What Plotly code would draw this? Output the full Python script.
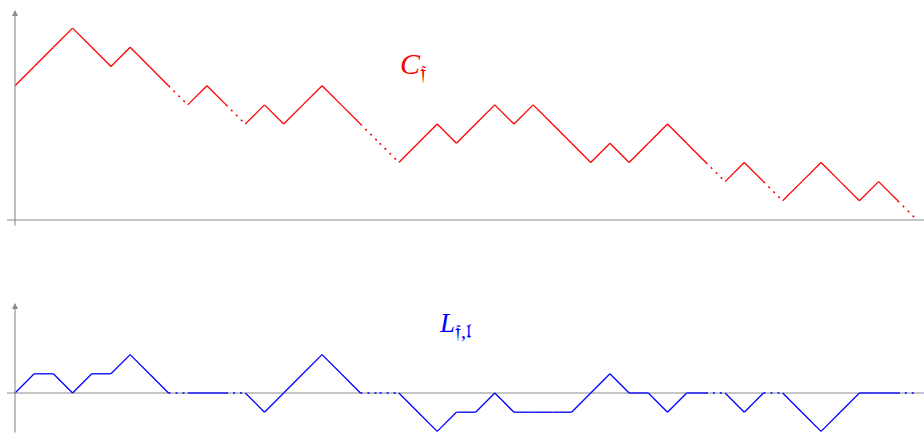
import plotly.graph_objects as go
from plotly.subplots import make_subplots

# hauteurs du contour C (pas 0..47)
c_heights = [7, 8, 9, 10, 9, 8, 9, 8, 7, 6, 7, 6, 5, 6, 5, 6, 7, 6, 5, 4, 3, 4, 5, 4,
             5, 6, 5, 6, 5, 4, 3, 4, 3, 4, 5, 4, 3, 2, 3, 2, 1, 2, 3, 2, 1, 2, 1, 0]
# hauteurs du chemin L
l_heights = [0, 1, 1, 0, 1, 1, 2, 1, 0, 0, 0, 0, 0, -1, 0, 1, 2, 1, 0, 0, 0, -1, -2, -1,
             -1, 0, -1, -1, -1, -1, 0, 1, 0, 0, -1, 0, 0, 0, -1, 0, 0, -1, -2, -1, 0, 0, 0, 0]
# pas dessinés en pointillés (indice du pas i -> i+1)
dotted_steps = [8, 11, 18, 19, 36, 39, 46]

U = 19.19  # pixels par unité


def split_path(h):
    xs_s, ys_s, xs_d, ys_d = [], [], [], []
    for i in range(len(h) - 1):
        if i in dotted_steps:
            xs_d += [i, i + 1, None]
            ys_d += [h[i], h[i + 1], None]
        else:
            xs_s += [i, i + 1, None]
            ys_s += [h[i], h[i + 1], None]
    return xs_s, ys_s, xs_d, ys_d


fig = make_subplots(rows=2, cols=1, vertical_spacing=0)

for row, h, col in [(1, c_heights, "#ff0000"), (2, l_heights, "#0000ff")]:
    xs, ys, xd, yd = split_path(h)
    fig.add_trace(go.Scatter(x=xs, y=ys, mode="lines",
                             line=dict(color=col, width=1.3), hoverinfo="skip"),
                  row=row, col=1)
    fig.add_trace(go.Scatter(x=xd, y=yd, mode="lines",
                             line=dict(color=col, width=1.6, dash="2px,5px"), hoverinfo="skip"),
                  row=row, col=1)

x_range = [-15 / U, 47 + 7 / U]
top_range = [-12 / U, 220 / U]
bot_range = [-41 / U, 103 / U]

fig.update_xaxes(range=x_range, visible=False)
fig.update_layout(
    xaxis=dict(domain=[0, 1]),
    yaxis=dict(domain=[202 / 434, 1], range=top_range, visible=False),
    xaxis2=dict(domain=[0, 1]),
    yaxis2=dict(domain=[0, 144 / 434], range=bot_range, visible=False),
)

gris = "#8c8c8c"
# axes horizontaux
for xr, yr in [("x", "y"), ("x2", "y2")]:
    fig.add_shape(type="line", xref=xr, yref=yr, x0=-8 / U, x1=x_range[1], y0=0, y1=0,
                  line=dict(color=gris, width=1.2), layer="below")

# axes verticaux avec flèche
for xr, yr, y0, y1 in [("x", "y", -7 / U, 210 / U), ("x2", "y2", bot_range[0], 90 / U)]:
    fig.add_annotation(x=0, y=y1, ax=0, ay=y0, xref=xr, yref=yr, axref=xr, ayref=yr,
                       showarrow=True, arrowhead=2, arrowsize=1.1, arrowwidth=1.1,
                       arrowcolor=gris, text="")

fig.add_annotation(x=(413 - 15) / U, y=(220 - 66) / U, xref="x", yref="y", showarrow=False,
                   text="<i>C</i><sub><span style='font-size:22px'>𝔣</span></sub>",
                   font=dict(family="Liberation Serif", size=30, color="#ff0000"))
fig.add_annotation(x=(455 - 15) / U, y=(393 - 325) / U, xref="x2", yref="y2", showarrow=False,
                   text="<i>L</i><sub><span style='font-size:20px'>𝔣,𝔩</span></sub>",
                   font=dict(family="Liberation Serif", size=27, color="#0000ff"))

fig.update_layout(
    width=924, height=434,
    margin=dict(l=0, r=0, t=0, b=0),
    paper_bgcolor="white", plot_bgcolor="white",
    showlegend=False,
)

fig.write_html("out.html", config={"displayModeBar": False},
               post_script="document.body.style.margin='0';")
